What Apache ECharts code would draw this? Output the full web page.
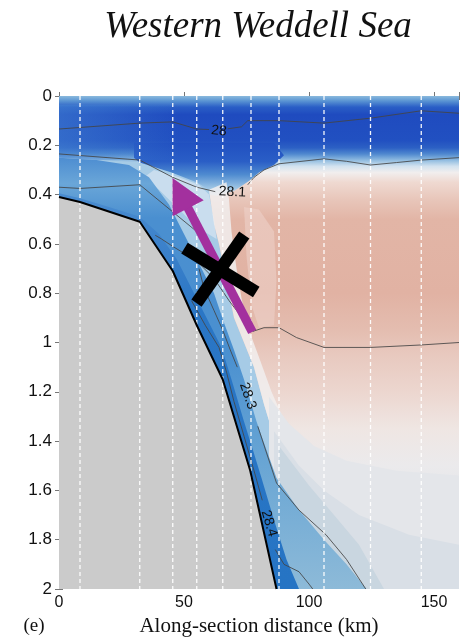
<!DOCTYPE html>
<html><head><meta charset="utf-8">
<script src="https://cdn.jsdelivr.net/npm/echarts@6/dist/echarts.min.js"></script>
<style>html,body{margin:0;padding:0;background:#fff}#c{width:460px;height:637px}</style>
</head><body><div id="c"></div>
<script>
// ---------------- data ----------------
const xTicks = [0, 50, 100, 150];
const xTickLabels = ['0', '50', '100', '150'];
const yTicks = [0, 0.2, 0.4, 0.6, 0.8, 1, 1.2, 1.4, 1.6, 1.8, 2];
const yTickLabels = ['0', '0.2', '0.4', '0.6', '0.8', '1', '1.2', '1.4', '1.6', '1.8', '2'];

// station positions (km)
const stations = [8.4, 32.3, 45.5, 55.1, 65.5, 76.8, 88.0, 106.0, 124.6, 144.9];

// bathymetry [km, depth km]
const bathy = [[0,0.41],[8.4,0.43],[32.3,0.51],[45.5,0.71],[55.1,0.93],[65.5,1.15],[76.5,1.52],[87,2.0]];

// density contours [km, depth]
const c28a  = [[0,0.134],[32.3,0.11],[45.5,0.105],[55.1,0.134],[60,0.136]];
const c28b  = [[67.5,0.133],[73,0.125],[75.5,0.10],[88,0.10],[106,0.11],[124.6,0.09],[144.9,0.06],[160,0.07]];
const c281a = [[0,0.235],[32.3,0.26],[45.5,0.33],[55.1,0.37],[62.5,0.388]];
const c281b = [[75.5,0.36],[78,0.33],[82,0.30],[88,0.275],[106,0.255],[115,0.265],[124.6,0.28],[135,0.27],[144.9,0.26],[160,0.25]];
const cMid  = [[0,0.37],[8.4,0.375],[32.3,0.36],[45.5,0.47],[55.1,0.55],[61,0.61]];
const c282  = [[38.5,0.565],[41,0.58],[45.5,0.61],[55.1,0.67],[62,0.74],[68,0.83],[74,0.91],[77.5,0.955],[82,0.94],[88,0.94],[95,0.98],[106,1.02],[124.6,1.02],[144.9,1.01],[160,1.0]];
const c283a = [[56,0.70],[58,0.78],[62,0.87],[65.5,0.95],[68.5,1.03],[71.3,1.10]];
const c283b = [[79.5,1.34],[87,1.57],[96,1.68],[106.8,1.78],[115,1.88],[122.7,2.0]];
const c284a = [[53,0.83],[58.5,0.93],[64,1.02],[67,1.12],[70,1.24],[74,1.38],[78,1.52],[81.3,1.64]];
const c284b = [[86.5,1.84],[90,1.9],[96,1.93],[100,1.98],[101.5,2.0]];

// contour labels [km, depth], text, rotation (deg)
const contourLabelPos = [[64,0.142],[69.3,0.39],[75.5,1.217],[84,1.734]];
const contourLabelText = ['28', '28.1', '28.3', '28.4'];
const contourLabelRot = [-6, -3, -71, -74];

// filled-field regions [km, depth]
const profDepth = [0, 0.02, 0.045, 0.075, 0.18, 0.21, 0.235, 0.26, 0.285, 0.31, 0.35, 0.42, 0.5, 0.8, 0.95, 1.05, 1.2, 1.35, 1.5, 1.65, 2.0];
const profColor = ['#8ab9dd','#5a94d3','#2a5ec6','#1f4bbf','#2150c1','#2c60c4','#4f88cf','#8fbbe0','#d2e2ef','#f1eeee','#efd9d1','#e8c6ba','#e2b5a6','#e1b2a3','#e4bdb0','#e8c9bf','#ecd6cf','#efe6e3','#ebeaec','#e3e5e9','#d8dde3'];
const fieldBox   = [[0,0],[160,0],[160,2],[0,2]];
const dipBlue    = [[30,0.19],[86,0.19],[90,0.24],[86,0.28],[80,0.31],[76,0.345],[70,0.385],[63,0.405],[55,0.39],[45,0.35],[32.3,0.27],[30,0.25]];
const leftUpper  = [[0,0.035],[48,0.035],[48,0.26],[0,0.26]];
const shelfTop   = [[0,0.25],[15,0.26],[32.3,0.27],[45,0.31],[55,0.35],[60,0.38]];
const frontF     = [[61,0.45],[62,0.52],[64,0.6],[66,0.7],[68,0.8],[70,0.9],[74,1.0],[78,1.1],[82,1.25],[88,1.45],[96,1.62],[106,1.8],[116,2.0]];
const frontF2    = [[67,0.35],[68,0.42],[69,0.55],[71,0.7],[73,0.82],[76,0.95],[80,1.06],[85,1.2],[92,1.36],[102,1.5],[115,1.66],[130,1.84],[142,2.0]];
const pinkLight  = [[74,0.45],[80,0.46],[86,0.55],[87,0.75],[86,0.93],[80,0.94],[77,0.85],[75,0.65]];
const wedge      = [[38,0.30],[48,0.33],[56,0.36],[60,0.40],[62,0.5],[63,0.58],[58,0.55],[52,0.5],[46,0.44],[40,0.38],[34,0.33]];
const greyBlue1  = [[84,1.22],[92,1.33],[102,1.42],[115,1.48],[135,1.52],[160,1.54],[160,2],[84,2]];
const greyBlue2  = [[86,1.36],[96,1.5],[106,1.6],[120,1.7],[140,1.78],[160,1.82],[160,2],[86,2]];
const greyBlue3  = [[88,1.42],[100,1.58],[110,1.7],[120,1.82],[130,2.0],[88,2.0]];
const slopeD2    = [[0,0.25],[15,0.26],[28,0.28],[36,0.33],[44,0.44],[50,0.56],[56,0.68],[62,0.8],[66,0.92],[70,1.03],[74,1.15],[79,1.32],[87,1.55],[96,1.68],[106,1.8],[115,1.9],[123,2.0]];
const slopeD1    = [[0,0.395],[8.4,0.415],[20,0.45],[32.3,0.49],[40,0.56],[47,0.66],[53,0.78],[59,0.9],[65,1.02],[69,1.15],[74,1.32],[78,1.45],[81,1.55],[86,1.72],[91,1.88],[96,2.0]];

// annotations [km, depth]
const arrowTailHead = [[77.3,0.957],[45.4,0.333]];
const crossArm1 = [[50.2,0.617],[78.9,0.795]];
const crossArm2 = [[74.1,0.564],[55.0,0.84]];

// ---------------- helpers ----------------
const rev = a => a.slice().reverse();
const bathyRev = rev(bathy);
const shelfPoly  = shelfTop.concat(frontF, [[87,2.0]], bathyRev.slice(1));
const frontPoly  = [[60,0.38]].concat(frontF, [[142,2.0]], rev(frontF2));
const strip2Poly = slopeD2.concat([[87,2.0]], bathyRev.slice(1));
const strip1Poly = slopeD1.concat([[87,2.0]], bathyRev.slice(1));
const groundPoly = bathy.concat([[0,2]]);

const G = echarts.graphic;
const vgrad = (stops) => new G.LinearGradient(0,0,0,1, stops.map(s=>({offset:s[0], color:s[1]})));
const hgrad = (stops) => new G.LinearGradient(0,0,1,0, stops.map(s=>({offset:s[0], color:s[1]})));

let zc = 1;
function poly(pts, fill) {
  return { type:'custom', coordinateSystem:'cartesian2d', silent:true, clip:true, z: zc++,
    data:[[0,0]],
    renderItem:(p, api) => ({ type:'polygon', shape:{ points: pts.map(q => api.coord(q)) }, style:{ fill } }) };
}
function cline(pts) {
  return { type:'line', data: pts, showSymbol:false, silent:true, z: zc++, clip:true,
    lineStyle:{ color:'#444', width:1, opacity:0.85 } };
}

const series = [];
series.push(poly(fieldBox, vgrad(profDepth.map((d,i)=>[d/2, profColor[i]]))));
series.push(poly(dipBlue, vgrad([[0,'#2150c1'],[0.35,'#2a5ec6'],[0.6,'#4f8bd0'],[0.85,'#9cc4e4'],[1,'#d8e6f2']])));
series.push(poly(leftUpper, hgrad([[0,'rgba(70,135,212,0.5)'],[0.6,'rgba(70,135,212,0.2)'],[1,'rgba(70,135,212,0)']])));
series.push(poly(shelfPoly, '#a6cbe6'));
series.push(poly(wedge, '#c9ddee'));
series.push(poly(frontPoly, 'rgba(241,238,239,0.85)'));
series.push(poly(pinkLight, 'rgba(238,212,204,0.55)'));
series.push(poly(greyBlue1, '#e4e6ea'));
series.push(poly(greyBlue2, '#d9dfe6'));
series.push(poly(greyBlue3, '#c9d6e0'));
series.push(poly(strip2Poly, vgrad([[0,'#4d8dd1'],[0.06,'#6aa6d8'],[0.14,'#4a8fd0'],[0.45,'#4a90d0'],[0.7,'#68a5d4'],[1,'#8dbad8']])));
series.push(poly(strip1Poly, vgrad([[0,'#4a8cd0'],[0.15,'#3a80ca'],[0.3,'#2a76c5'],[1,'#2674c4']])));
series.push(poly(groundPoly, '#cbcbcb'));
[c28a, c28b, c281a, c281b, cMid, c282, c283a, c283b, c284a, c284b].forEach(c => series.push(cline(c)));

// station dashed lines
series.push({ type:'custom', coordinateSystem:'cartesian2d', silent:true, z: zc++, clip:true,
  data: stations.map(s => [s, 0]),
  renderItem:(p, api) => {
    const x = api.value(0);
    const a = api.coord([x, 0]), b = api.coord([x, 2]);
    return { type:'line', shape:{ x1:a[0], y1:a[1], x2:b[0], y2:b[1] },
      style:{ stroke:'rgba(255,255,255,0.95)', lineWidth:1.3, lineDash:[4,3] } };
  }});

// bathymetry outline
series.push({ type:'line', data: bathy, showSymbol:false, silent:true, z: zc++, clip:true,
  lineStyle:{ color:'#000', width:2 } });

// contour labels
series.push({ type:'custom', coordinateSystem:'cartesian2d', silent:true, z: zc++,
  data: contourLabelPos.map((p,i)=>[p[0], p[1], i]),
  renderItem:(p, api) => {
    const i = api.value(2);
    const c = api.coord([api.value(0), api.value(1)]);
    return { type:'text', x:c[0], y:c[1], rotation: contourLabelRot[i]*Math.PI/180,
      style:{ text: contourLabelText[i], fill:'#111', font:'14px "Liberation Sans", Arial, sans-serif', align:'center', verticalAlign:'middle' } };
  }});

// arrow and cross
series.push({ type:'custom', coordinateSystem:'cartesian2d', silent:true, z: zc++,
  data:[[0,0]],
  renderItem:(p, api) => {
    const t = api.coord(arrowTailHead[0]), h = api.coord(arrowTailHead[1]);
    const dx = h[0]-t[0], dy = h[1]-t[1], L = Math.hypot(dx,dy), ux = dx/L, uy = dy/L;
    const headLen = 34, headHalf = 17.5;
    const bx = h[0]-ux*headLen, by = h[1]-uy*headLen, px = -uy, py = ux;
    const a1 = crossArm1.map(q=>api.coord(q)), a2 = crossArm2.map(q=>api.coord(q));
    return { type:'group', children:[
      { type:'line', shape:{ x1:t[0], y1:t[1], x2:bx+ux*2, y2:by+uy*2 }, style:{ stroke:'#a3309e', lineWidth:9, lineCap:'butt' } },
      { type:'polygon', shape:{ points:[h, [bx+px*headHalf, by+py*headHalf], [bx-px*headHalf, by-py*headHalf]] }, style:{ fill:'#a3309e' } },
      { type:'line', shape:{ x1:a1[0][0], y1:a1[0][1], x2:a1[1][0], y2:a1[1][1] }, style:{ stroke:'#000', lineWidth:12.5, lineCap:'butt' } },
      { type:'line', shape:{ x1:a2[0][0], y1:a2[0][1], x2:a2[1][0], y2:a2[1][1] }, style:{ stroke:'#000', lineWidth:12.5, lineCap:'butt' } }
    ]};
  }});

const axisCommon = {
  axisLine:{ show:true, lineStyle:{ color:'#9a9a9a', width:1 } },
  axisTick:{ show:true, inside:true, length:4, lineStyle:{ color:'#777' } },
  splitLine:{ show:false }
};

const chart = echarts.init(document.getElementById('c'), null, { renderer:'canvas' });
chart.setOption({
  animation:false,
  backgroundColor:'#fff',
  grid:{ left:59, right:1, top:96, bottom:48, containLabel:false, outerBoundsMode:'none' },
  graphic:[
    { type:'text', x:258, y:27, style:{ text:'Western Weddell Sea', fill:'#111', align:'center', verticalAlign:'middle',
      font:'italic 37px "Liberation Serif", "Times New Roman", serif' } },
    { type:'text', x:34, y:626, style:{ text:'(e)', fill:'#111', align:'center', verticalAlign:'middle', font:'19px "Liberation Serif", serif' } }
  ],
  xAxis:[
    Object.assign({ type:'value', min:0, max:160, interval:50, position:'bottom',
      axisLabel:{ color:'#111', fontSize:16, fontFamily:'"Liberation Sans", Arial, sans-serif', margin:6,
        formatter: v => { const i = xTicks.indexOf(v); return i >= 0 ? xTickLabels[i] : ''; } },
      name:'Along-section distance (km)', nameLocation:'middle', nameGap:27,
      nameTextStyle:{ color:'#111', fontSize:21, fontFamily:'"Liberation Serif", "Times New Roman", serif' } }, axisCommon),
    Object.assign({ type:'value', min:0, max:160, interval:50, position:'top', axisLabel:{ show:false } }, axisCommon)
  ],
  yAxis:[
    Object.assign({ type:'value', min:0, max:2, interval:0.2, inverse:true, position:'left',
      axisLabel:{ color:'#111', fontSize:17, fontFamily:'"Liberation Sans", Arial, sans-serif', margin:7,
        formatter: v => { const i = yTicks.findIndex(t => Math.abs(t - v) < 1e-6); return i >= 0 ? yTickLabels[i] : ''; } } }, axisCommon),
    Object.assign({ type:'value', min:0, max:2, interval:0.2, inverse:true, position:'right', axisLabel:{ show:false } }, axisCommon)
  ],
  series
});
</script></body></html>
